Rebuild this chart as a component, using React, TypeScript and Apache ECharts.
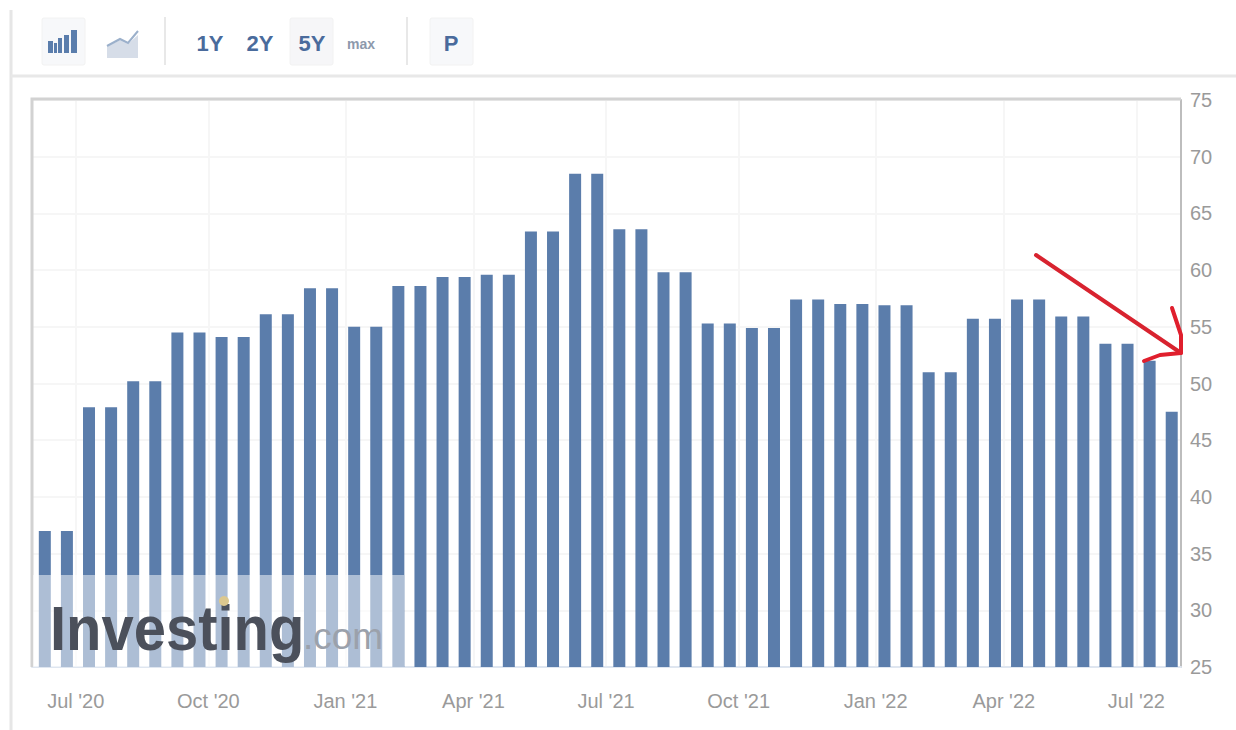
import React, { useEffect, useRef } from "react";
import * as echarts from "echarts";

// PMI readings, two bars per month.
const pmiValues = [
  37, 37, 47.9, 47.9, 50.2, 50.2, 54.5, 54.5, 54.1, 54.1, 56.1, 56.1, 58.4, 58.4,
  55, 55, 58.6, 58.6, 59.4, 59.4, 59.6, 59.6, 63.4, 63.4, 68.5, 68.5, 63.6, 63.6,
  59.8, 59.8, 55.3, 55.3, 54.9, 54.9, 57.4, 57.4, 57, 57, 56.9, 56.9, 51, 51,
  55.7, 55.7, 57.4, 57.4, 55.9, 55.9, 53.5, 53.5, 52, 47.5,
];
const monthLabels = ["Jul '20", "Oct '20", "Jan '21", "Apr '21", "Jul '21", "Oct '21", "Jan '22", "Apr '22", "Jul '22"];
const monthPositions = [1.4, 7.4, 13.6, 19.4, 25.4, 31.4, 37.6, 43.4, 49.4];
const rangeButtons = ["1Y", "2Y", "5Y"];
const rangeButtonX = [210, 260, 312];

const BAR = "#5b7dab";
const BUTTON_BLUE = "#4a6b9c";
const FONT = "'Liberation Sans', Arial, sans-serif";

export default function App() {
  const ref = useRef<HTMLDivElement>(null);

  useEffect(() => {
    document.body.style.margin = "0";
    const chart = echarts.init(ref.current!, undefined, { renderer: "svg" });

    const button = (x: number, w: number, fill: string) => ({
      type: "rect",
      shape: { x, y: 18, width: w, height: 47, r: 2 },
      style: { fill, stroke: "#f2f2f2", lineWidth: 1 },
      silent: true,
    });
    const hairline = (x1: number, y1: number, x2: number, y2: number, stroke: string, lineWidth: number) => ({
      type: "line",
      shape: { x1, y1, x2, y2 },
      style: { stroke, lineWidth },
      silent: true,
    });
    const barGlyph = [
      [48, 41, 5, 12],
      [54, 43, 3, 10],
      [58, 38, 4, 15],
      [64, 35, 5, 18],
      [71, 30, 6, 23],
    ].map(([x, y, w, h]) => ({
      type: "rect",
      shape: { x, y, width: w, height: h },
      style: { fill: "#5a7dac" },
      silent: true,
    }));

    chart.setOption({
      animation: false,
      backgroundColor: "#ffffff",
      grid: { left: 32, right: 55, top: 100, bottom: 63 },
      xAxis: {
        type: "value",
        min: -0.58,
        max: 51.42,
        axisLine: { show: true, onZero: false, lineStyle: { color: "#dfe6f0", width: 2 } },
        axisTick: { show: false, customValues: monthPositions },
        splitLine: { show: true, lineStyle: { color: "#f6f6f6", width: 2 } },
        axisLabel: {
          customValues: monthPositions,
          formatter: (v: number) => monthLabels[monthPositions.indexOf(v)] ?? "",
          color: "#9a9a9a",
          fontFamily: FONT,
          fontSize: 20,
          margin: 24,
          showMinLabel: true,
          showMaxLabel: true,
          hideOverlap: false,
        },
      },
      yAxis: {
        type: "value",
        position: "right",
        min: 25,
        max: 75,
        interval: 5,
        axisLine: { show: true, onZero: false, lineStyle: { color: "#bdbdbd", width: 2 } },
        axisTick: { show: false },
        splitLine: { show: true, lineStyle: { color: "#f6f6f6", width: 2 } },
        axisLabel: { color: "#9a9a9a", fontFamily: FONT, fontSize: 20, margin: 9 },
      },
      series: [
        {
          type: "bar",
          barWidth: 12,
          itemStyle: { color: BAR },
          data: pmiValues.map((v, i) => [i, v]),
        },
      ],
      graphic: [
        // page frame and toolbar
        hairline(11, 10, 11, 730, "#e6e6e6", 3),
        hairline(11, 76, 1236, 76, "#e8e8e8", 3),
        // plot frame, top and left edges
        {
          type: "polyline",
          z: 10,
          shape: { points: [[32, 667], [32, 99], [1181, 99]] },
          style: { stroke: "#d2d2d2", lineWidth: 3, fill: "none" },
          silent: true,
        },
        button(42, 43, "#f7f8fa"),
        ...barGlyph,
        {
          type: "polygon",
          shape: { points: [[107, 58], [107, 47], [120, 40], [128, 44], [138, 35], [138, 58]] },
          style: { fill: "#d6dde8" },
          silent: true,
        },
        {
          type: "polyline",
          shape: { points: [[107, 46], [120, 39], [128, 43], [138, 31]] },
          style: { stroke: "#9bb0cb", lineWidth: 2, fill: "none" },
          silent: true,
        },
        hairline(165, 17, 165, 65, "#e8e8e8", 2),
        button(290, 43, "#f6f6f8"),
        ...rangeButtons.map((t, i) => ({
          type: "text",
          x: rangeButtonX[i],
          y: 43,
          style: { text: t, fill: BUTTON_BLUE, font: `bold 22px ${FONT}`, align: "center", verticalAlign: "middle" },
          silent: true,
        })),
        {
          type: "text",
          x: 361,
          y: 44,
          style: { text: "max", fill: "#8d99ac", font: `bold 14px ${FONT}`, align: "center", verticalAlign: "middle" },
          silent: true,
        },
        hairline(407, 17, 407, 65, "#e8e8e8", 2),
        button(430, 43, "#f7f8fa"),
        {
          type: "text",
          x: 451,
          y: 43,
          style: { text: "P", fill: BUTTON_BLUE, font: `bold 22px ${FONT}`, align: "center", verticalAlign: "middle" },
          silent: true,
        },
        // watermark over the first bars
        {
          type: "rect",
          z: 20,
          shape: { x: 33, y: 575, width: 371, height: 92 },
          style: { fill: "rgba(255,255,255,0.5)" },
          silent: true,
        },
        {
          type: "text",
          z: 21,
          x: 50,
          y: 660,
          scaleX: 0.92,
          style: { text: "Investing", fill: "#4b505b", font: `bold 63px ${FONT}`, verticalAlign: "bottom" },
          silent: true,
        },
        {
          type: "text",
          z: 21,
          x: 303,
          y: 655,
          style: { text: ".com", fill: "#9ba1ab", font: `37px ${FONT}`, verticalAlign: "bottom" },
          silent: true,
        },
        {
          type: "circle",
          z: 22,
          shape: { cx: 224, cy: 601, r: 5 },
          style: { fill: "#dcc88f" },
          silent: true,
        },
        // hand-drawn red arrow
        {
          type: "polyline",
          z: 30,
          shape: { points: [[1036, 255], [1181, 353]] },
          style: { stroke: "#d8232f", lineWidth: 4, fill: "none", lineCap: "round" },
          silent: true,
        },
        {
          type: "polyline",
          z: 30,
          shape: { points: [[1172, 308], [1181, 335], [1181, 353], [1160, 355], [1144, 361]] },
          style: { stroke: "#e01f2d", lineWidth: 4, fill: "none", lineJoin: "round", lineCap: "round" },
          silent: true,
        },
      ],
    });

    return () => chart.dispose();
  }, []);

  return <div ref={ref} style={{ position: "absolute", left: 0, top: 0, width: 1236, height: 730 }} />;
}
